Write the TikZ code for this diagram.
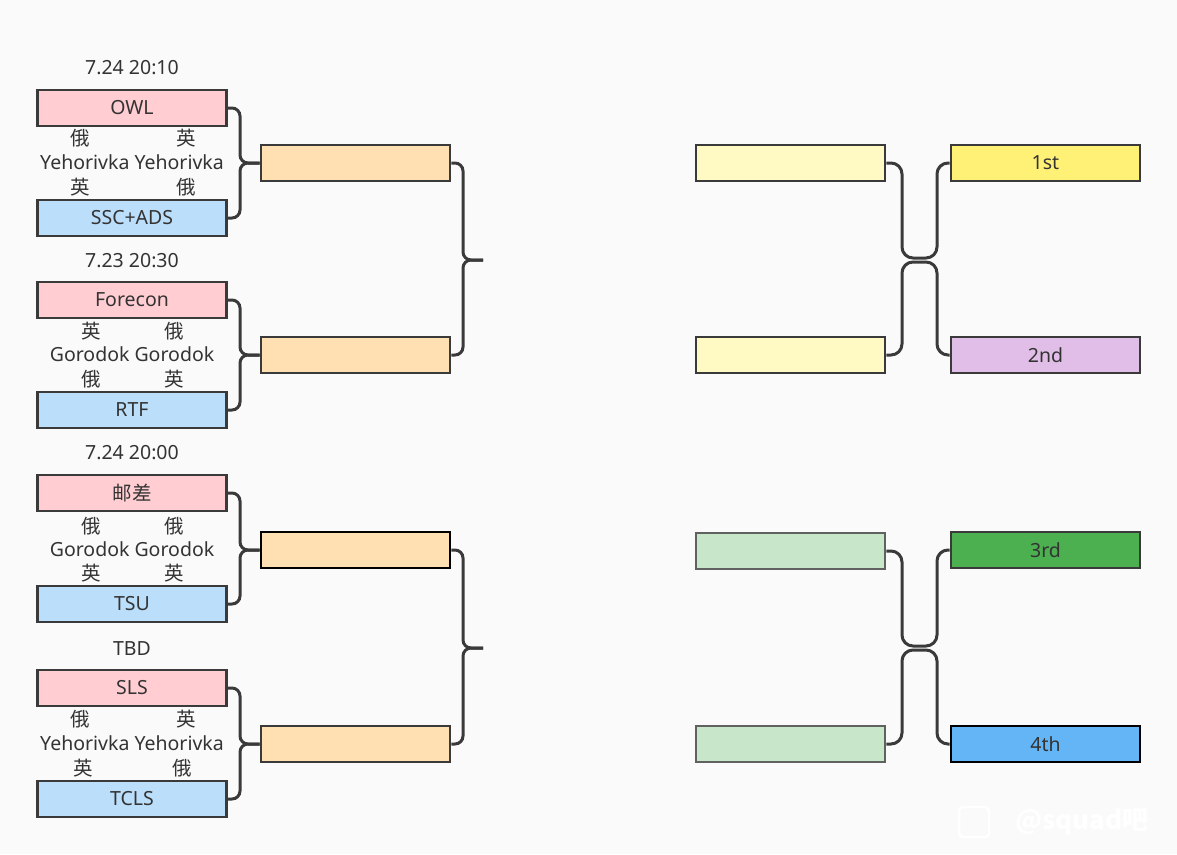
\documentclass[tikz,border=0pt]{standalone}
\usepackage{fontspec}
\setmainfont{Noto Sans}
\newfontfamily\cjk{Noto Sans CJK SC}
\definecolor{bg}{HTML}{FAFAFA}
\definecolor{ink}{HTML}{333333}
\definecolor{edge}{HTML}{3A3A3A}
\definecolor{cpink}{HTML}{FFCDD2}
\definecolor{cblue}{HTML}{BBDEFB}
\definecolor{corange}{HTML}{FFE0B2}
\definecolor{clyellow}{HTML}{FFF9C4}
\definecolor{cyellow}{HTML}{FFF176}
\definecolor{cpurple}{HTML}{E1BEE7}
\definecolor{clgreen}{HTML}{C8E6C9}
\definecolor{cgreen}{HTML}{4CAF50}
\definecolor{cdblue}{HTML}{64B5F6}
\begin{document}
\begin{tikzpicture}[x=1pt,y=-1pt,
  every node/.style={text=ink,font=\fontsize{19.5}{22}\selectfont,inner sep=0pt},
  team/.style={draw=edge,line width=2.7pt,minimum width=189pt,minimum height=36pt,anchor=center},
  lbl/.style={anchor=center},
  conn/.style={draw=edge,line width=3pt,rounded corners=8pt},
  conn2/.style={draw=edge,line width=3pt,rounded corners=11pt}]
\useasboundingbox (0,0) rectangle (1177,854);
\fill[bg] (0,0) rectangle (1177,854);
% left column
\node[team,fill=cpink] (owl) at (132,108) {OWL};
\node[team,fill=cblue] (ssc) at (132,218) {SSC+ADS};
\node[team,fill=cpink] (fore) at (132,300) {Forecon};
\node[team,fill=cblue] (rtf) at (132,410) {RTF};
\node[team,fill=cpink] (yc) at (132,493) {\cjk 邮差};
\node[team,fill=cblue] (tsu) at (132,604) {TSU};
\node[team,fill=cpink] (sls) at (132,688) {SLS};
\node[team,fill=cblue] (tcls) at (132,799) {TCLS};
% dates
\node[lbl] (d1) at (132,68) {7.24 20:10};
\node[lbl] (d2) at (132,261) {7.23 20:30};
\node[lbl] (d3) at (132,453) {7.24 20:00};
\node[lbl] (d4) at (132,649) {TBD};
% group 1 labels
\node[lbl] (g1a) at (80,138) {\cjk 俄};
\node[lbl] (g1b) at (186,138) {\cjk 英};
\node[lbl] (g1m) at (132,162) {Yehorivka Yehorivka};
\node[lbl] (g1c) at (80,187) {\cjk 英};
\node[lbl] (g1d) at (186,187) {\cjk 俄};
% group 2 labels
\node[lbl] (g2a) at (91,331) {\cjk 英};
\node[lbl] (g2b) at (174,331) {\cjk 俄};
\node[lbl] (g2m) at (132,354) {Gorodok Gorodok};
\node[lbl] (g2c) at (91,379) {\cjk 俄};
\node[lbl] (g2d) at (174,379) {\cjk 英};
% group 3 labels
\node[lbl] (g3a) at (91,526) {\cjk 俄};
\node[lbl] (g3b) at (174,526) {\cjk 俄};
\node[lbl] (g3m) at (132,549) {Gorodok Gorodok};
\node[lbl] (g3c) at (91,573) {\cjk 英};
\node[lbl] (g3d) at (174,573) {\cjk 英};
% group 4 labels
\node[lbl] (g4a) at (80,719) {\cjk 俄};
\node[lbl] (g4b) at (186,719) {\cjk 英};
\node[lbl] (g4m) at (132,743) {Yehorivka Yehorivka};
\node[lbl] (g4c) at (83,768) {\cjk 英};
\node[lbl] (g4d) at (182,768) {\cjk 俄};
% second column
\node[team,fill=corange] (o1) at (355.5,163) {};
\node[team,fill=corange] (o2) at (355.5,355) {};
\node[team,fill=corange,draw=black] (o3) at (355.5,550) {};
\node[team,fill=corange] (o4) at (355.5,744) {};
% right columns
\node[team,fill=clyellow] (y1) at (790.5,163) {};
\node[team,fill=clyellow] (y2) at (790.5,355) {};
\node[team,fill=clgreen,draw=edge!80] (gr1) at (790.5,551) {};
\node[team,fill=clgreen,draw=edge!80] (gr2) at (790.5,744) {};
\node[team,fill=cyellow] (p1) at (1045.5,163) {1st};
\node[team,fill=cpurple] (p2) at (1045.5,355) {2nd};
\node[team,fill=cgreen] (p3) at (1045.5,550) {3rd};
\node[team,fill=cdblue,draw=black] (p4) at (1045.5,744) {4th};
% brace points
\coordinate (j1) at (483,260);
\coordinate (j2) at (483,648);
% connectors left
\path[conn] (owl.east) -| (240,163) -- (o1.west);
\path[conn] (ssc.east) -| (240,163) -- (o1.west);
\path[conn] (fore.east) -| (240,355) -- (o2.west);
\path[conn] (rtf.east) -| (240,355) -- (o2.west);
\path[conn] (yc.east) -| (240,550) -- (o3.west);
\path[conn] (tsu.east) -| (240,550) -- (o3.west);
\path[conn] (sls.east) -| (240,744) -- (o4.west);
\path[conn] (tcls.east) -| (240,744) -- (o4.west);
\path[conn] (o1.east) -| (463,260) -- (j1);
\path[conn] (o2.east) -| (463,260) -- (j1);
\path[conn] (o3.east) -| (463,648) -- (j2);
\path[conn] (o4.east) -| (463,648) -- (j2);
% connectors right
\path[conn2] (y1.east) -- (902,163) -- (902,258) -- (937,258) -- (937,163) -- (p1.west);
\path[conn2] (y2.east) -- (902,355) -- (902,262) -- (937,262) -- (937,355) -- (p2.west);
\path[conn2] (gr1.east) -- (902,551) -- (902,646) -- (937,646) -- (937,550) -- (p3.west);
\path[conn2] (gr2.east) -- (902,744) -- (902,650) -- (937,650) -- (937,744) -- (p4.west);
% watermark
\node[draw=white,line width=2.5pt,rounded corners=4pt,minimum size=30pt] (wmi) at (974,822) {};
\node[text=white,font=\cjk\bfseries\fontsize{26}{30}\selectfont,anchor=west] (wm) at (1015,822) {@squad吧};
\end{tikzpicture}
\end{document}
